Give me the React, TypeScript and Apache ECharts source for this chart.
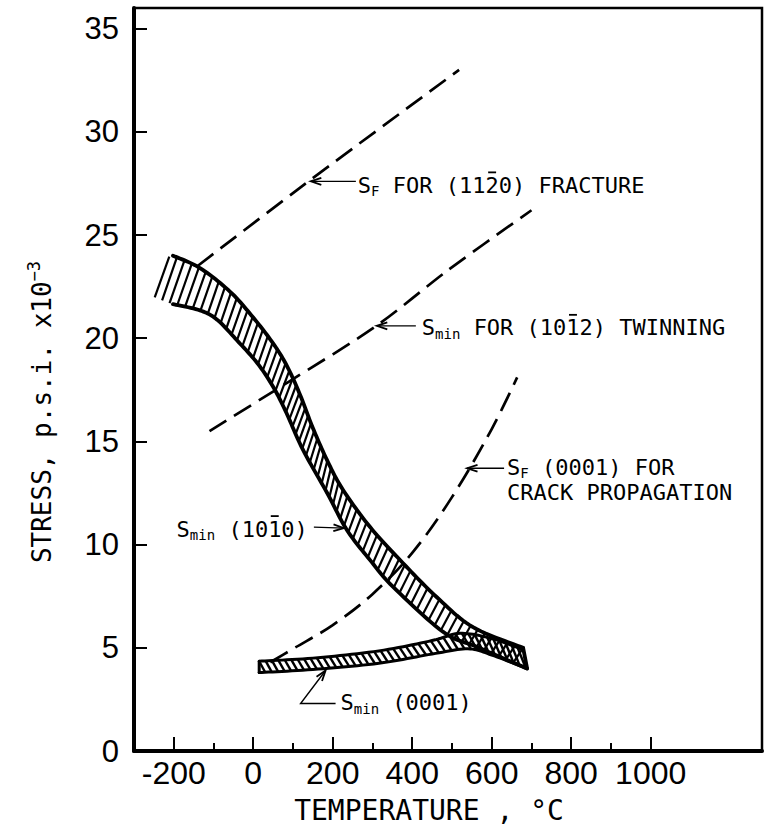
import React, { useEffect, useRef } from "react";
import * as echarts from "echarts";

// ---------- axis ticks / labels ----------
const xMajorTicks = [-200, 0, 200, 400, 600, 800, 1000];
const xMinorTicks = [-100, 100, 300, 500, 700, 900];
const yTicks = [0, 5, 10, 15, 20, 25, 30, 35];

// ---------- dashed curves: [temperature °C, stress ×10^3 psi] ----------
const fractureSF = [[-140, 23.5], [146, 27.7], [518, 33.0]];
const twinningSmin = [[-110, 15.5], [90, 17.9], [310, 20.6], [490, 23.3], [700, 26.2]];
const crackSF = [[43, 4.3], [100, 4.95], [200, 6.1], [300, 7.6], [400, 9.6], [500, 12.3], [600, 15.6], [664, 18.1]];

// ---------- S_min (10-10) band ----------
const prismUpper = [[-202, 24.0], [-134, 23.4], [-58, 22.25], [0, 21.0], [50, 19.75], [85, 18.65], [118, 17.25], [150, 15.65], [188, 14.0], [226, 12.65], [294, 10.85], [377, 9.1], [462, 7.45], [553, 6.0], [679, 5.0]];
const prismLower = [[-202, 21.65], [-134, 21.35], [-91, 20.9], [-41, 19.9], [10, 18.8], [50, 17.65], [83, 16.4], [125, 14.6], [186, 12.5], [236, 10.7], [294, 9.25], [352, 7.95], [478, 5.77], [563, 5.04], [689, 4.0]];
const prismHatchUpperLead = [[-240, 23.4]];
const prismHatchLowerLead = [[-250, 22.0]];

// ---------- S_min (0001) band ----------
const basalUpper = [[15, 4.35], [150, 4.5], [316, 4.85], [450, 5.35], [520, 5.7], [600, 5.45], [680, 4.9]];
const basalLower = [[15, 3.8], [150, 3.95], [316, 4.25], [450, 4.7], [540, 4.95], [600, 4.65], [687, 4.0]];

// ---------- annotation anchors (arrow tips, data coords) ----------
const tipFracture = [145, 27.6];
const tipTwinning = [311, 20.6];
const tipCrack = [538, 13.7];
const tipPrism = [228, 10.8];
const tipBasal = [182, 3.9];

const MONO_NAME = "DejaVu Sans Mono";
const MONO = '"DejaVu Sans Mono", "Liberation Mono", monospace';
const SANS = '"Liberation Sans", Arial, sans-serif';
const ANN_SIZE = 22;
const SUB_SIZE = 14;

type Pt = number[];

function catmull(P: Pt[], steps = 12): Pt[] {
  if (P.length < 3) return P.slice();
  const out: Pt[] = [];
  for (let i = 0; i < P.length - 1; i++) {
    const p0 = P[i - 1] || P[i];
    const p1 = P[i];
    const p2 = P[i + 1];
    const p3 = P[i + 2] || P[i + 1];
    for (let s = 0; s < steps; s++) {
      const t = s / steps, t2 = t * t, t3 = t2 * t;
      out.push([0, 1].map(
        (k) =>
          0.5 *
          (2 * p1[k] +
            (-p0[k] + p2[k]) * t +
            (2 * p0[k] - 5 * p1[k] + 4 * p2[k] - p3[k]) * t2 +
            (-p0[k] + 3 * p1[k] - 3 * p2[k] + p3[k]) * t3)
      ));
    }
  }
  out.push(P[P.length - 1]);
  return out;
}

function cumLen(P: Pt[]): number[] {
  const c = [0];
  for (let i = 1; i < P.length; i++) {
    c.push(c[i - 1] + Math.hypot(P[i][0] - P[i - 1][0], P[i][1] - P[i - 1][1]));
  }
  return c;
}

function pointAt(P: Pt[], c: number[], s: number): Pt {
  const total = c[c.length - 1];
  const v = Math.max(0, Math.min(total, s));
  let i = 0;
  while (i < c.length - 2 && c[i + 1] < v) i++;
  const seg = c[i + 1] - c[i] || 1;
  const f = (v - c[i]) / seg;
  return [P[i][0] + (P[i + 1][0] - P[i][0]) * f, P[i][1] + (P[i + 1][1] - P[i][1]) * f];
}

function makeBand(
  upper: Pt[],
  lower: Pt[],
  hatchUpper: Pt[],
  hatchLower: Pt[],
  o: { edge: number; rung: number; spacing: number; shift: number; capStart: boolean; capEnd: boolean }
) {
  return (_params: any, api: any) => {
    const toPx = (arr: Pt[]) => arr.map((p) => api.coord(p));
    const hu = catmull(toPx(hatchUpper));
    const hl = catmull(toPx(hatchLower));
    const cu = cumLen(hu);
    const cl = cumLen(hl);
    const Lu = cu[cu.length - 1];
    const Ll = cl[cl.length - 1];
    const n = Math.round(Math.max(Lu, Ll) / o.spacing);
    const children: any[] = [];
    for (let i = 0; i <= n; i++) {
      const t = i / n;
      const tl = t - o.shift / Ll;
      if (tl < 0 || tl > 1) continue;
      const a = pointAt(hu, cu, t * Lu);
      const b = pointAt(hl, cl, tl * Ll);
      children.push({
        type: "line",
        shape: { x1: a[0], y1: a[1], x2: b[0], y2: b[1] },
        style: { stroke: "#000", lineWidth: o.rung },
      });
    }
    const eu = catmull(toPx(upper));
    const el = catmull(toPx(lower));
    const edgeStyle = { stroke: "#000", fill: "none", lineWidth: o.edge, lineJoin: "round", lineCap: "round" };
    children.push({ type: "polyline", shape: { points: eu }, style: edgeStyle });
    children.push({ type: "polyline", shape: { points: el }, style: edgeStyle });
    if (o.capStart) children.push({ type: "polyline", shape: { points: [eu[0], el[0]] }, style: edgeStyle });
    if (o.capEnd) children.push({ type: "polyline", shape: { points: [eu[eu.length - 1], el[el.length - 1]] }, style: edgeStyle });
    return { type: "group", children };
  };
}

const dashed = { color: "#000", width: 2.7, type: [20, 9] as any };

const option: any = {
  animation: false,
  backgroundColor: "#fff",
  grid: { left: 134, right: 2, top: 8, bottom: 81, show: true, borderColor: "#000", borderWidth: 2.5 },
  xAxis: [
    {
      type: "value",
      min: -300,
      max: 1280,
      interval: 100,
      position: "bottom",
      axisLine: { show: true, onZero: false, lineStyle: { color: "#000", width: 4 } },
      axisTick: { show: true, inside: true, length: 14, customValues: xMajorTicks, lineStyle: { color: "#000", width: 2 } },
      axisLabel: {
        customValues: xMajorTicks,
        color: "#000",
        fontFamily: SANS,
        fontSize: 32,
        margin: 6,
        formatter: (v: number) => String(v),
      },
      splitLine: { show: false },
    },
    {
      type: "value",
      min: -300,
      max: 1280,
      interval: 100,
      position: "bottom",
      axisLine: { show: false, onZero: false },
      axisTick: { show: true, inside: true, length: 8, customValues: xMinorTicks, lineStyle: { color: "#000", width: 2 } },
      axisLabel: { show: false },
      splitLine: { show: false },
    },
  ],
  yAxis: {
    type: "value",
    min: 0,
    max: 36,
    interval: 5,
    axisLine: { show: true, onZero: false, lineStyle: { color: "#000", width: 4 } },
    axisTick: { show: true, inside: true, length: 13, customValues: yTicks, lineStyle: { color: "#000", width: 2 } },
    axisLabel: { customValues: yTicks, color: "#000", fontFamily: SANS, fontSize: 31, margin: 15, formatter: (v: number) => String(v) },
    splitLine: { show: false },
  },
  series: [
    {
      type: "line",
      name: "SF for (11-20) fracture",
      data: fractureSF,
      smooth: 0.3,
      showSymbol: false,
      lineStyle: dashed,
      z: 4,
    },
    {
      type: "line",
      name: "Smin for (10-12) twinning",
      data: twinningSmin,
      smooth: 0.3,
      showSymbol: false,
      lineStyle: dashed,
      z: 4,
    },
    {
      type: "line",
      name: "SF (0001) for crack propagation",
      data: crackSF,
      smooth: 0.35,
      showSymbol: false,
      lineStyle: dashed,
      z: 4,
    },
    {
      type: "custom",
      name: "Smin (10-10)",
      data: [[0, 0]],
      clip: true,
      silent: true,
      z: 2,
      renderItem: makeBand(prismUpper, prismLower, prismHatchUpperLead.concat(prismUpper), prismHatchLowerLead.concat(prismLower), {
        edge: 3.8,
        rung: 2.2,
        spacing: 8.2,
        shift: 15,
        capStart: false,
        capEnd: true,
      }),
    },
    {
      type: "custom",
      name: "Smin (0001)",
      data: [[0, 0]],
      clip: true,
      silent: true,
      z: 2,
      renderItem: makeBand(basalUpper, basalLower, basalUpper, basalLower, {
        edge: 3,
        rung: 2.4,
        spacing: 6.5,
        shift: -6,
        capStart: true,
        capEnd: false,
      }),
    },
  ],
};

const annRich = {
  s: { fontFamily: MONO, fontSize: ANN_SIZE, lineHeight: 26, color: "#000" },
  t: { fontFamily: MONO, fontSize: ANN_SIZE, lineHeight: 26, color: "#000" },
  sub: { fontFamily: MONO, fontSize: SUB_SIZE, lineHeight: 14, verticalAlign: "bottom", color: "#000" },
};

let measureCtx: CanvasRenderingContext2D | null = null;
function textW(text: string, size: number): number {
  if (!measureCtx) measureCtx = document.createElement("canvas").getContext("2d");
  if (!measureCtx) return text.length * size * 0.602;
  measureCtx.font = `${size}px "${MONO_NAME}", monospace`;
  return measureCtx.measureText(text).width;
}

// label: sub-script after "S", then main text; barIndex = index in main text of the digit with an overbar
function annotation(x: number, y: number, sub: string, main: string, barIndex: number, align: "left" | "right") {
  const wS = sub ? textW("S", ANN_SIZE) : 0;
  const wSub = sub ? textW(sub, SUB_SIZE) : 0;
  const wMain = textW(main, ANN_SIZE);
  const total = wS + wSub + wMain;
  const x0 = align === "left" ? x : x - total;
  const text = sub ? `{s|S}{sub|${sub}}{t|${main}}` : `{t|${main}}`;
  const els: any[] = [
    {
      type: "text",
      x: x0,
      y,
      silent: true,
      style: {
        text,
        rich: annRich,
        fontFamily: MONO,
        fontSize: ANN_SIZE,
        fill: "#000",
        align: "left",
        verticalAlign: "middle",
        textAlign: "left",
        textVerticalAlign: "middle",
      },
    },
  ];
  if (barIndex >= 0) {
    const bx = x0 + wS + wSub + textW(main.slice(0, barIndex), ANN_SIZE);
    const bw = textW(main.charAt(barIndex), ANN_SIZE);
    const by = y - ANN_SIZE * 0.5 - 2;
    els.push({
      type: "line",
      silent: true,
      shape: { x1: bx + bw * 0.2, y1: by, x2: bx + bw * 0.8, y2: by },
      style: { stroke: "#000", lineWidth: 1.8 },
    });
  }
  return els;
}

function arrowEls(pts: Pt[]) {
  // pts: from tail ... to tip (last)
  const T = pts[pts.length - 1];
  const P = pts[pts.length - 2];
  const dx = P[0] - T[0], dy = P[1] - T[1];
  const len = Math.hypot(dx, dy) || 1;
  const ux = dx / len, uy = dy / len;
  const h = 11, a = 0.32;
  const r = (ang: number) => [T[0] + h * (ux * Math.cos(ang) - uy * Math.sin(ang)), T[1] + h * (ux * Math.sin(ang) + uy * Math.cos(ang))];
  return [
    { type: "polyline", silent: true, shape: { points: pts }, style: { stroke: "#000", fill: "none", lineWidth: 1.4 } },
    { type: "polyline", silent: true, shape: { points: [r(a), T, r(-a)] }, style: { stroke: "#000", fill: "none", lineWidth: 1.8 } },
  ];
}

export default function App() {
  const ref = useRef<HTMLDivElement>(null);
  useEffect(() => {
    document.body.style.margin = "0";
    const chart = echarts.init(ref.current!, null, { renderer: "svg" });
    chart.setOption(option);
    const px = (p: Pt) => chart.convertToPixel({ seriesIndex: 0 }, p) as unknown as number[];

    const g: any[] = [];
    // fracture
    {
      const T = px(tipFracture);
      const tail = [T[0] + 45, T[1]];
      g.push(...arrowEls([tail, T]));
      g.push(...annotation(tail[0] + 2, T[1] + 4, "F", " FOR (1120) FRACTURE", 8, "left"));
    }
    // twinning
    {
      const T = px(tipTwinning);
      const tail = [T[0] + 39, T[1]];
      g.push(...arrowEls([tail, T]));
      g.push(...annotation(tail[0] + 6, T[1] + 2, "min", " FOR (1012) TWINNING", 8, "left"));
    }
    // crack
    {
      const T = px(tipCrack);
      const tail = [T[0] + 37, T[1]];
      g.push(...arrowEls([tail, T]));
      g.push(...annotation(tail[0] + 3, T[1] - 1, "F", " (0001) FOR", -1, "left"));
      g.push(...annotation(tail[0] + 3, T[1] + 24, "", "CRACK PROPAGATION", -1, "left"));
    }
    // prism band
    {
      const T = px(tipPrism);
      const tail = [T[0] - 30, T[1] - 1];
      g.push(...arrowEls([tail, T]));
      g.push(...annotation(tail[0] - 6, T[1] + 1, "min", " (1010)", 4, "right"));
    }
    // basal band
    {
      const T = px(tipBasal);
      const knee = [T[0] - 25, T[1] + 33];
      const tail = [T[0] + 10, T[1] + 33];
      g.push(...arrowEls([tail, knee, T]));
      g.push(...annotation(tail[0] + 5, T[1] + 32, "min", " (0001)", -1, "left"));
    }
    // axis titles
    g.push({
      type: "text",
      x: 429,
      y: 810,
      silent: true,
      style: {
        text: "TEMPERATURE , °C",
        fontFamily: MONO,
        fontSize: 28,
        fill: "#000",
        align: "center",
        verticalAlign: "middle",
        textAlign: "center",
        textVerticalAlign: "middle",
      },
    });
    g.push({
      type: "text",
      x: 42,
      y: 412,
      rotation: Math.PI / 2,
      silent: true,
      style: {
        text: "{a|STRESS, p.s.i. x10}{b|\u22123}",
        rich: {
          a: { fontFamily: MONO, fontSize: 26, lineHeight: 34, color: "#000" },
          b: { fontFamily: MONO, fontSize: 17, lineHeight: 17, verticalAlign: "top", color: "#000" },
        },
        fontFamily: MONO,
        fontSize: 26,
        fill: "#000",
        align: "center",
        verticalAlign: "middle",
        textAlign: "center",
        textVerticalAlign: "middle",
      },
    });
    chart.setOption({ graphic: g });
    return () => chart.dispose();
  }, []);
  return <div ref={ref} style={{ width: 764, height: 832 }} />;
}
